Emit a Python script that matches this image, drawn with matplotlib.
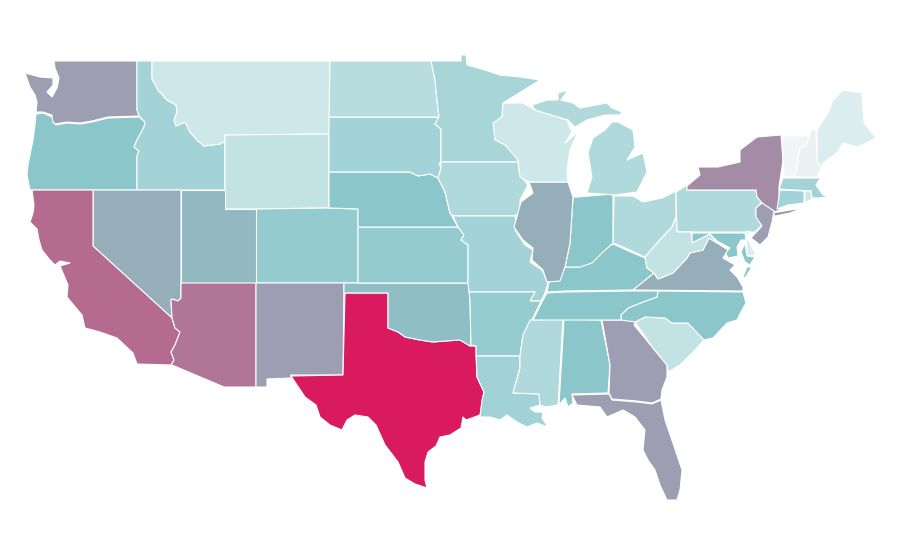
"""Choropleth of the lower 48 states, outlines traced by hand in picture pixels."""
import matplotlib
matplotlib.use("Agg")
import matplotlib.pyplot as plt
from matplotlib.collections import PolyCollection
from matplotlib.colors import LinearSegmentedColormap, Normalize

WA = [(54,61),(137,61),(137,110),(139,116),(108,117),(92,121),(80,123),(67,122),(55,124),(52,121),(52,115),(43,112),(36,112),(37,102),(35,95),(30,87),(25,73),(40,77),(53,78),(53,85),(47,92),(52,97),(57,88),(59,78),(55,68)]
OR = [(36,114),(43,113),(52,117),(53,122),(56,125),(67,123),(80,124),(92,122),(108,118),(139,117),(145,122),(144,127),(137,140),(134,147),(139,151),(137,156),(137,190),(30,190),(27,175),(28,165),(33,140),(35,125)]
ID = [(137,61),(152,61),(152,79),(158,90),(167,100),(176,105),(177,112),(174,120),(176,126),(185,122),(190,132),(197,140),(204,146),(220,144),(225,141),(225,190),(137,190),(137,156),(139,151),(134,147),(137,140),(144,127),(145,122),(139,116),(137,110)]
MT = [(152,61),(330,61),(330,134),(225,135),(225,141),(220,144),(204,146),(197,140),(190,132),(185,122),(176,126),(174,120),(177,112),(176,105),(167,100),(158,90),(152,79)]
WY = [(225,135),(329,134),(329,208),(256,209),(225,209)]
CO = [(256,209),(329,208),(358,209),(358,283),(256,283)]
UT = [(181,190),(225,190),(225,209),(256,209),(256,283),(181,283)]
NV = [(93,190),(181,190),(181,298),(178,301),(172,299),(171,300),(172,318),(93,246)]
CA = [(32,190),(93,190),(93,246),(172,318),(175,328),(180,332),(175,345),(171,352),(174,360),(171,365),(137,364),(133,353),(117,338),(100,332),(85,328),(82,315),(67,297),(68,285),(63,273),(60,266),(70,263),(60,261),(55,265),(50,260),(42,250),(39,240),(37,229),(30,222),(33,213),(34,205)]
AZ = [(181,283),(256,283),(256,387),(224,387),(172,365),(171,365),(174,360),(171,352),(175,345),(180,332),(175,328),(172,318),(171,300),(172,299),(178,301),(181,298)]
NM = [(256,283),(344,283),(343,375),(291,375),(291,378),(267,379),(267,387),(256,387)]
TX = [(345,293),(388,293),(388,328),(398,332),(405,337),(420,340),(433,342),(445,341),(460,340),(470,346),(476,346),(477,377),(484,392),(480,415),(466,420),(463,417),(461,428),(450,435),(440,437),(436,446),(428,452),(425,462),(425,480),(427,488),(415,484),(405,478),(398,462),(385,445),(376,425),(368,417),(355,415),(347,420),(342,430),(330,425),(320,417),(316,405),(305,397),(291,376),(343,375)]
OK = [(344,283),(469,283),(470,300),(471,345),(470,346),(460,340),(445,341),(433,342),(420,340),(405,337),(398,332),(388,328),(388,293),(344,293)]
KS = [(358,227),(458,227),(464,235),(461,240),(468,245),(468,283),(358,283)]
NE = [(329,172),(410,172),(418,176),(430,174),(438,178),(445,192),(450,213),(458,227),(358,227),(358,209),(329,208)]
SD = [(329,117),(439,117),(435,124),(441,129),(441,162),(439,164),(441,168),(438,178),(430,174),(418,176),(410,172),(329,172)]
ND = [(330,61),(431,61),(435,80),(437,100),(439,117),(329,117)]
MN = [(431,61),(461,61),(461,55),(466,55),(467,65),(485,70),(500,75),(520,77),(540,80),(503,103),(502,117),(495,122),(496,140),(505,145),(517,155),(518,162),(441,162),(441,129),(435,124),(439,117),(437,100),(435,80)]
IA = [(441,162),(518,162),(520,175),(528,185),(520,200),(520,212),(515,216),(453,216),(450,213),(445,192),(438,178),(441,168)]
MO = [(453,216),(515,216),(517,225),(515,230),(525,245),(533,250),(530,262),(542,270),(548,283),(545,293),(541,301),(530,301),(535,292),(469,292),(468,283),(468,245),(461,240),(464,235),(458,227)]
AR = [(469,292),(535,292),(530,301),(541,301),(533,318),(523,335),(520,356),(476,356),(476,346),(471,345),(470,300)]
LA = [(476,356),(520,356),(520,368),(513,393),(539,394),(540,405),(530,408),(535,412),(543,412),(542,418),(548,427),(537,423),(527,427),(517,422),(507,415),(500,420),(490,417),(480,417),(482,400),(484,392),(477,377)]
MS = [(530,320),(563,319),(558,405),(545,407),(540,405),(539,394),(513,393),(520,368),(520,356),(523,335)]
AL = [(564,319),(601,320),(610,365),(608,393),(572,394),(573,403),(568,407),(565,398),(559,405)]
GA = [(602,320),(636,320),(634,325),(653,348),(667,365),(667,377),(662,390),(661,399),(652,403),(637,401),(612,399),(609,393),(610,365)]
FL = [(572,395),(609,394),(612,400),(637,402),(652,404),(661,400),(665,420),(677,455),(682,470),(680,490),(677,500),(667,500),(660,485),(655,470),(648,460),(643,450),(645,430),(635,417),(623,410),(607,417),(600,407),(577,405)]
SC = [(635,322),(645,317),(665,318),(672,323),(690,323),(704,340),(695,350),(680,365),(668,372),(667,365),(653,348)]
NC = [(621,320),(621,315),(628,308),(643,302),(657,297),(658,291),(743,292),(746,303),(742,310),(737,320),(727,323),(713,338),(704,340),(688,323),(672,323),(665,318),(645,317),(635,322)]
TN = [(533,320),(542,302),(547,293),(565,292),(632,291),(658,291),(657,297),(643,302),(628,308),(621,315),(621,320)]
KY = [(547,292),(549,282),(562,273),(565,267),(580,267),(590,260),(603,250),(613,244),(633,253),(645,258),(647,268),(654,273),(643,282),(633,290),(565,291)]
IN = [(573,197),(577,197),(613,194),(613,243),(603,252),(592,263),(580,267),(565,267),(570,243)]
IL = [(529,182),(568,182),(573,197),(570,243),(565,267),(560,281),(547,282),(543,270),(532,260),(533,248),(523,240),(514,227),(521,202),(533,193)]
WI = [(503,103),(523,103),(535,110),(567,120),(572,132),(565,143),(578,132),(570,150),(567,170),(568,182),(529,182),(520,177),(518,160),(505,145),(495,140),(493,123),(502,117)]
MI_UP = [(532,105),(547,100),(558,100),(558,93),(568,90),(561,100),(573,103),(580,108),(607,103),(612,108),(622,112),(620,115),(605,115),(587,120),(575,127),(568,120),(535,110)]
MI_LP = [(612,122),(618,122),(633,130),(635,147),(627,160),(643,153),(647,172),(637,192),(615,195),(587,193),(592,177),(588,153),(593,138),(605,130)]
OH = [(614,196),(633,196),(643,202),(662,198),(676,191),(676,217),(672,227),(658,242),(645,257),(623,247),(613,243)]
PA = [(676,192),(687,185),(687,190),(756,190),(757,197),(762,202),(756,208),(756,217),(762,225),(755,232),(677,232)]
NY = [(687,186),(700,175),(698,167),(718,167),(740,162),(740,150),(757,137),(781,135),(783,160),(779,187),(779,210),(775,212),(763,204),(757,197),(756,190),(687,190)]
NY_LI = [(773,213),(802,208),(790,213),(775,216)]
NJ = [(762,203),(774,211),(772,222),(768,237),(760,245),(751,238),(762,226),(756,217),(756,208)]
VT = [(782,136),(808,136),(807,145),(800,148),(795,177),(784,177),(783,160)]
NH = [(809,137),(811,130),(816,130),(817,160),(821,168),(817,177),(795,177),(800,148),(807,145)]
ME = [(817,130),(828,113),(833,100),(843,90),(862,93),(864,123),(876,138),(858,147),(843,143),(837,153),(823,163),(821,168),(817,160)]
MA = [(783,178),(817,178),(821,177),(816,185),(823,195),(831,196),(820,198),(812,198),(811,191),(779,189)]
CT = [(780,190),(804,191),(804,203),(788,205),(777,209),(779,197)]
RI = [(805,191),(811,191),(812,199),(805,203)]
DE = [(746,232),(750,231),(747,237),(756,255),(747,256)]
MD = [(692,233),(745,233),(746,240),(741,240),(737,247),(738,256),(728,258),(725,252),(730,248),(717,241),(710,234),(692,243)]
MD_EAST = [(745,243),(747,256),(755,257),(750,265),(745,262),(741,252)]
VA = [(633,290),(643,282),(654,273),(658,279),(673,273),(687,258),(690,253),(703,250),(709,238),(717,243),(728,250),(723,258),(735,265),(730,270),(737,277),(743,287),(743,291)]
VA_SHORE = [(752,267),(747,267),(743,277),(745,278)]
WV = [(645,257),(658,242),(672,227),(676,217),(677,232),(691,232),(692,243),(710,234),(717,243),(709,238),(703,250),(690,253),(687,258),(673,273),(658,279),(654,273),(647,268)]

# outlines and their values, same order
OUTLINES = [WA, OR, ID, MT, WY, CO, UT, NV, CA, AZ, NM, TX, OK, KS, NE, SD, ND, MN, IA, MO, AR, LA, MS, AL, GA, FL, SC, NC, TN, KY, IN, IL, WI, MI_UP, MI_LP, OH, PA, NY, NY_LI, NJ, VT, NH, ME, MA, CT, RI, DE, MD, MD_EAST, VA, VA_SHORE, WV]
VALUES = [39, 20, 15.6, 7.3, 9.6, 18.5, 27, 32, 63, 58, 39, 100, 24, 18.5, 20, 15.6, 11.7, 14.6, 13.2, 15.6, 18, 16, 13.2, 20, 39, 39, 9.6, 20, 20, 20, 20, 32, 7.3, 13.2, 13.2, 13.2, 13.2, 47, 47, 39, 0, 2, 5, 15.6, 15.6, 7.3, 5, 20, 20, 32, 20, 9.6]

COLOR_STOPS = [(0.0, "#f3f4f5"), (0.05, "#d9edef"), (0.2, "#8bc7ca"), (1.0, "#d91a5f")]


def main():
    cmap = LinearSegmentedColormap.from_list("stops", COLOR_STOPS)

    fig = plt.figure(figsize=(9, 5.6), dpi=100)
    ax = fig.add_axes([0, 0, 1, 1])
    states = PolyCollection(OUTLINES, array=VALUES, cmap=cmap, norm=Normalize(0, 100),
                            edgecolors="white", linewidths=0.8)
    ax.add_collection(states)
    ax.set_xlim(0, 900)
    ax.set_ylim(560, 0)
    ax.axis("off")
    fig.savefig("out.png", dpi=100)
    plt.close(fig)


if __name__ == "__main__":
    main()
